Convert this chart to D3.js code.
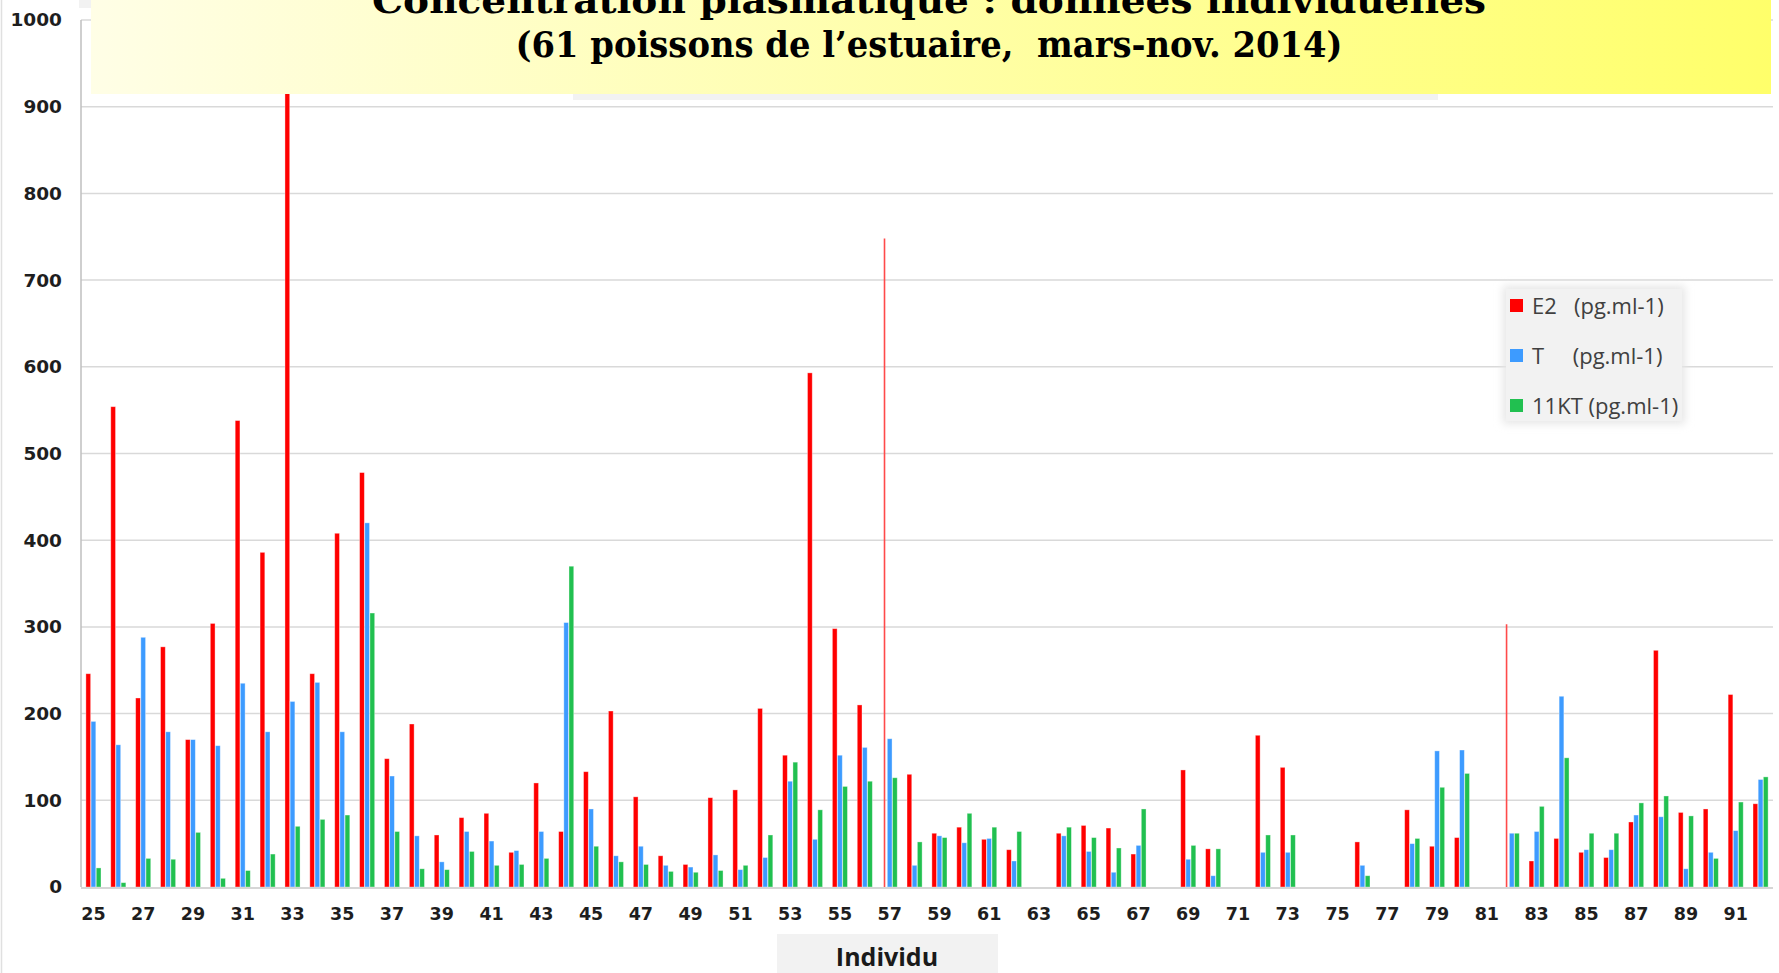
<!DOCTYPE html>
<html>
<head>
<meta charset="utf-8">
<script src="https://cdn.jsdelivr.net/npm/d3@7"></script>
<style>
  html, body { margin: 0; padding: 0; background: #fff; }
  svg { display: block; }
</style>
</head>
<body>
<div id="viz"></div>
<script>
// individus (poissons) 25 -> 92
const categories = [25, 26, 27, 28, 29, 30, 31, 32, 33, 34, 35, 36, 37, 38, 39, 40, 41, 42, 43, 44,
  45, 46, 47, 48, 49, 50, 51, 52, 53, 54, 55, 56, 57, 58, 59, 60, 61, 62, 63, 64, 65, 66, 67, 68,
  69, 70, 71, 72, 73, 74, 75, 76, 77, 78, 79, 80, 81, 82, 83, 84, 85, 86, 87, 88, 89, 90, 91, 92];

const e2 = [246, 554, 218, 277, 170, 304, 538, 386, 1000, 246, 408, 478, 148, 188, 60, 80, 85, 40, 120, 64,
  133, 203, 104, 36, 26, 103, 112, 206, 152, 593, 298, 210, 748, 130, 62, 69, 55, 43, null, 62, 71, 68, 38, null,
  135, 44, null, 175, 138, null, null, 52, null, 89, 47, 57, null, 303, 30, 56, 40, 34, 75, 273, 86, 90, 222, 96];

const t = [191, 164, 288, 179, 170, 163, 235, 179, 214, 236, 179, 420, 128, 59, 29, 64, 53, 42, 64, 305,
  90, 36, 47, 25, 23, 37, 20, 34, 122, 55, 152, 161, 171, 25, 59, 51, 56, 30, null, 59, 41, 17, 48, null,
  32, 13, null, 40, 40, null, null, 25, null, 50, 157, 158, null, 62, 64, 220, 43, 43, 83, 81, 21, 40, 65, 124];

const kt11 = [22, 5, 33, 32, 63, 10, 19, 38, 70, 78, 83, 316, 64, 21, 20, 41, 25, 26, 33, 370,
  47, 29, 26, 18, 17, 19, 25, 60, 144, 89, 116, 122, 126, 52, 57, 85, 69, 64, null, 69, 57, 45, 90, null,
  48, 44, null, 60, 60, null, null, 13, null, 56, 115, 131, null, 62, 93, 149, 62, 62, 97, 105, 82, 33, 98, 127];

// E2 drawn as a thin line for these individuals
const thinE2 = [57, 82];

const seriesNames = ['E2   (pg.ml-1)', 'T     (pg.ml-1)', '11KT (pg.ml-1)'];
const seriesKeys = ['e2', 't', 'kt11'];
const colors = ['#ff0000', '#3d9bff', '#21c050'];
const yTicks = [0, 100, 200, 300, 400, 500, 600, 700, 800, 900, 1000];

const W = 1779, H = 973;
const plotL = 81, plotR = 1773, plotT = 20, plotB = 887;

const rows = categories.map((c, i) => ({ c, e2: e2[i], t: t[i], kt11: kt11[i] }));

const svg = d3.select('#viz').append('svg')
  .attr('width', W).attr('height', H);

const defs = svg.append('defs');
const grad = defs.append('linearGradient').attr('id', 'yel').attr('x1', '0%').attr('x2', '100%');
grad.append('stop').attr('offset', '0%').attr('stop-color', '#fffee6');
grad.append('stop').attr('offset', '100%').attr('stop-color', '#ffff6a');
const sh = defs.append('filter').attr('id', 'soft').attr('x', '-20%').attr('y', '-20%').attr('width', '140%').attr('height', '140%');
sh.append('feGaussianBlur').attr('stdDeviation', 4);

// cadre
svg.append('line').attr('x1', 1.5).attr('x2', 1.5).attr('y1', 0).attr('y2', H)
  .attr('stroke', '#e0e0e0').attr('stroke-width', 1.5);

const x = d3.scaleBand().domain(categories).range([plotL, plotR]).paddingInner(0.36).paddingOuter(0.18);
const xs = d3.scaleBand().domain(seriesKeys).range([0, x.bandwidth()]).padding(0.08);
const y = d3.scaleLinear().domain([0, 1000]).range([plotB, plotT]);

// grille
svg.append('g').selectAll('line').data(yTicks.filter(d => d > 0)).join('line')
  .attr('x1', plotL).attr('x2', plotR)
  .attr('y1', d => y(d)).attr('y2', d => y(d))
  .attr('stroke', '#d9d9d9').attr('stroke-width', 1.5);

// axe Y
const yAxis = svg.append('g').attr('transform', `translate(${plotL},0)`)
  .call(d3.axisLeft(y).tickValues(yTicks).tickFormat(d3.format('d')).tickSize(0).tickPadding(19));
yAxis.select('.domain').remove();
yAxis.selectAll('text')
  .attr('font-family', '"DejaVu Sans", Verdana, sans-serif')
  .attr('font-weight', 'bold').attr('font-size', 18.5).attr('fill', '#1e1e1e');
svg.append('line').attr('x1', plotL).attr('x2', plotL).attr('y1', plotT).attr('y2', plotB)
  .attr('stroke', '#bfbfbf').attr('stroke-width', 1.5);

// barres
const g = svg.append('g');
seriesKeys.forEach((k, si) => {
  g.append('g').selectAll('rect')
    .data(rows.filter(r => r[k] != null && !(k === 'e2' && thinE2.includes(r.c))))
    .join('rect')
    .attr('x', r => x(r.c) + xs(k))
    .attr('width', xs.bandwidth())
    .attr('y', r => y(r[k]))
    .attr('height', r => y(0) - y(r[k]))
    .attr('fill', colors[si])
    .attr('stroke', '#ffffff').attr('stroke-opacity', 0.45).attr('stroke-width', 0.8);
});
g.append('g').selectAll('line')
  .data(rows.filter(r => thinE2.includes(r.c)))
  .join('line')
  .attr('x1', r => x(r.c) + xs('e2') + xs.bandwidth() / 2)
  .attr('x2', r => x(r.c) + xs('e2') + xs.bandwidth() / 2)
  .attr('y1', y(0)).attr('y2', r => y(r.e2))
  .attr('stroke', '#ff4a4a').attr('stroke-width', 1.6);

// axe X
svg.append('line').attr('x1', plotL).attr('x2', plotR).attr('y1', plotB + 1).attr('y2', plotB + 1)
  .attr('stroke', '#d6d6d6').attr('stroke-width', 2);
const xAxis = svg.append('g').attr('transform', `translate(0,${plotB})`)
  .call(d3.axisBottom(x).tickValues(categories.filter(c => c % 2 === 1)).tickSize(0).tickPadding(21));
xAxis.select('.domain').remove();
xAxis.selectAll('text')
  .attr('font-family', '"DejaVu Sans", Verdana, sans-serif')
  .attr('font-weight', 'bold').attr('font-size', 17.5).attr('fill', '#1e1e1e');

// titre axe X
svg.append('rect').attr('x', 777).attr('y', 934).attr('width', 221).attr('height', 39).attr('fill', '#f2f2f2');
svg.append('text').attr('x', 887).attr('y', 966).attr('text-anchor', 'middle')
  .attr('font-family', '"Open Sans", Calibri, sans-serif').attr('font-weight', 'bold')
  .attr('font-size', 25).attr('fill', '#1a1a1a').text('Individu');

// légende
svg.append('rect').attr('x', 1503).attr('y', 286).attr('width', 182).attr('height', 138)
  .attr('fill', '#e6e6e6').attr('filter', 'url(#soft)');
svg.append('rect').attr('x', 1506).attr('y', 289).attr('width', 176).attr('height', 132).attr('fill', '#f2f2f2');
const leg = svg.append('g').selectAll('g').data(seriesNames).join('g')
  .attr('transform', (d, i) => `translate(1510,${306 + i * 50})`);
leg.append('rect').attr('x', 0).attr('y', -7).attr('width', 13).attr('height', 13)
  .attr('fill', (d, i) => colors[i]);
leg.append('text').attr('x', 22).attr('y', 0).attr('dy', '0.35em')
  .attr('font-family', '"Open Sans", Calibri, sans-serif').attr('font-size', 22)
  .attr('fill', '#404040').style('white-space', 'pre').text(d => d);

// titre
svg.append('rect').attr('x', 79).attr('y', 0).attr('width', 12).attr('height', 8).attr('fill', '#f2f2f2');
svg.append('rect').attr('x', 573).attr('y', 80).attr('width', 865).attr('height', 20).attr('fill', '#f2f2f2');
svg.append('rect').attr('x', 91).attr('y', 0).attr('width', 1680).attr('height', 94).attr('fill', 'url(#yel)');
svg.append('text').attr('x', 929).attr('y', 13).attr('text-anchor', 'middle')
  .attr('font-family', '"DejaVu Serif", "Liberation Serif", serif').attr('font-weight', 'bold')
  .attr('font-size', 35).attr('fill', '#000')
  .attr('textLength', 1114).attr('lengthAdjust', 'spacingAndGlyphs')
  .text('Concentration plasmatique : données individuelles');
svg.append('text').attr('x', 929).attr('y', 57).attr('text-anchor', 'middle')
  .attr('font-family', '"DejaVu Serif", "Liberation Serif", serif').attr('font-weight', 'bold')
  .attr('font-size', 35).attr('fill', '#000').style('white-space', 'pre')
  .attr('textLength', 827).attr('lengthAdjust', 'spacingAndGlyphs')
  .text('(61 poissons de l’estuaire,  mars-nov. 2014)');
</script>
</body>
</html>
